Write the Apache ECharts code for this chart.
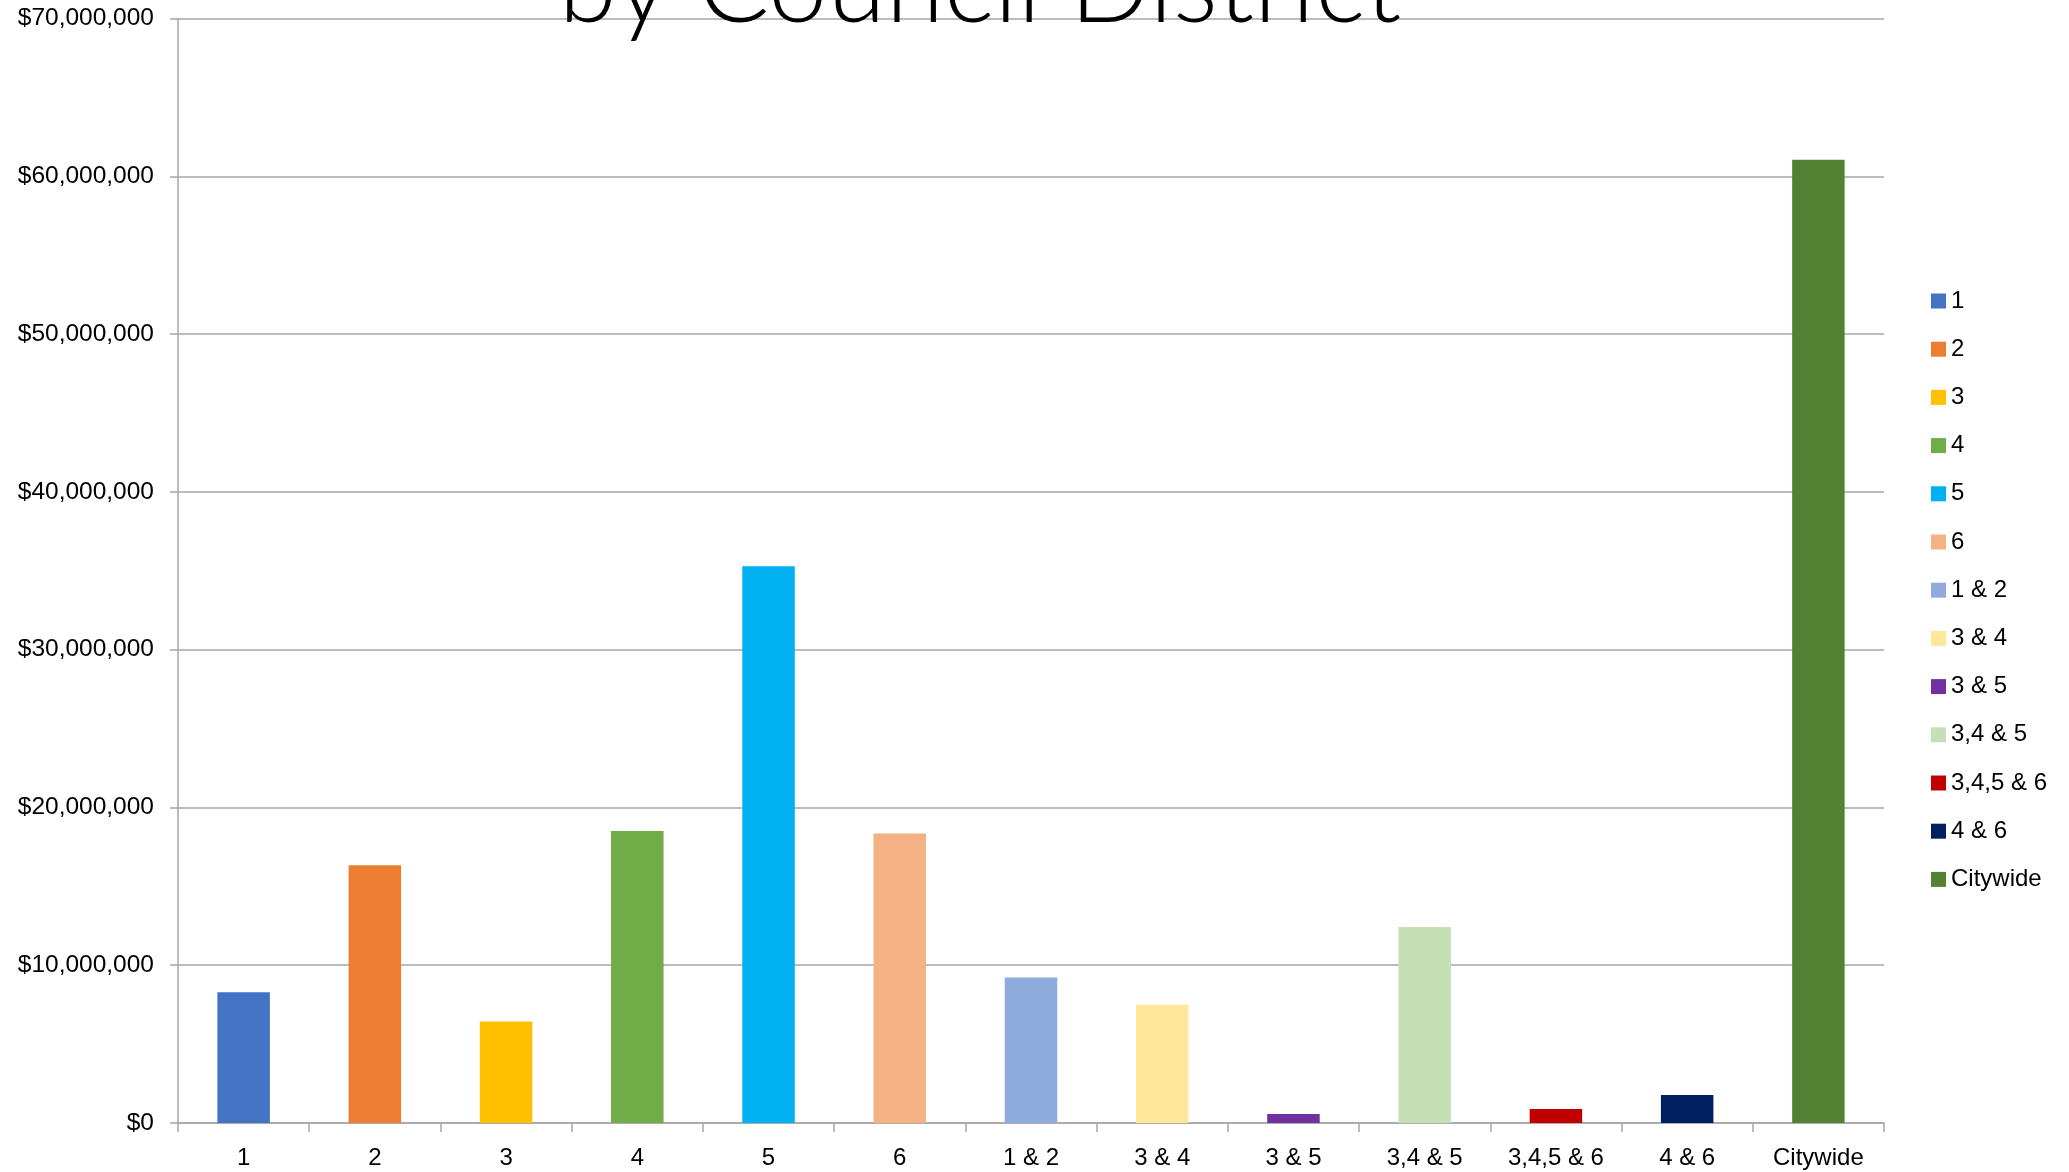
<!DOCTYPE html>
<html>
<head>
<meta charset="utf-8">
<script src="https://cdn.jsdelivr.net/npm/echarts@6/dist/echarts.min.js"></script>
<style>
html,body{margin:0;padding:0;background:#fff;}
#chart{width:2069px;height:1172px;}
</style>
</head>
<body>
<div id="chart"></div>
<script>
const categories = ['1','2','3','4','5','6','1 & 2','3 & 4','3 & 5','3,4 & 5','3,4,5 & 6','4 & 6','Citywide'];
const values = [8280000, 16330000, 6430000, 18500000, 35290000, 18350000, 9220000, 7500000, 570000, 12420000, 890000, 1770000, 61050000];
const colors = ['#4472C4','#ED7D31','#FFC000','#70AD47','#00B0F0','#F4B183','#8FAADC','#FFE699','#7030A0','#C5E0B4','#C00000','#002060','#548235'];
const yTicks = [0, 10000000, 20000000, 30000000, 40000000, 50000000, 60000000, 70000000];
const titleText = 'by Council District';

const FONT = '"Liberation Sans", Arial, sans-serif';
const chart = echarts.init(document.getElementById('chart'), null, {renderer:'canvas'});

const series = categories.map((c, i) => ({
  name: c,
  type: 'bar',
  stack: 'all',
  barWidth: '40%',
  itemStyle: {color: colors[i]},
  data: categories.map((_, j) => j === i ? values[i] : null)
}));

chart.setOption({
  animation: false,
  backgroundColor: '#ffffff',
  graphic: [{
    type: 'text',
    z: 100,
    x: 980,
    y: -12,
    style: {
      text: titleText,
      x: 0,
      y: 0,
      align: 'center',
      verticalAlign: 'middle',
      fill: '#000000',
      font: '300 106px Lato, "Open Sans", sans-serif'
    }
  }],
  grid: {left: 178, right: 185, top: 18.5, bottom: 49, containLabel: false},
  legend: {
    orient: 'vertical',
    left: 1926,
    top: 284,
    icon: 'rect',
    itemWidth: 15,
    itemHeight: 15,
    itemGap: 24.2,
    data: categories,
    textStyle: {fontFamily: FONT, fontSize: 24, color: '#000', lineHeight: 24}
  },
  xAxis: {
    type: 'category',
    data: categories,
    axisLine: {lineStyle: {color: '#a6a6a6', width: 1.5}},
    axisTick: {show: true, length: 9, lineStyle: {color: '#a6a6a6', width: 1.5}},
    axisLabel: {fontFamily: FONT, fontSize: 24, color: '#000', margin: 23, interval: 0}
  },
  yAxis: {
    type: 'value',
    min: 0,
    max: 70000000,
    interval: 10000000,
    axisLine: {show: true, lineStyle: {color: '#a6a6a6', width: 1.5}},
    axisTick: {show: true, length: 8, lineStyle: {color: '#a6a6a6', width: 1.5}},
    splitLine: {lineStyle: {color: '#a6a6a6', width: 1.5}},
    axisLabel: {
      fontFamily: FONT, fontSize: 24.5, color: '#000', margin: 24,
      formatter: v => '$' + Math.round(v).toLocaleString('en-US')
    }
  },
  series: series
});
</script>
</body>
</html>
